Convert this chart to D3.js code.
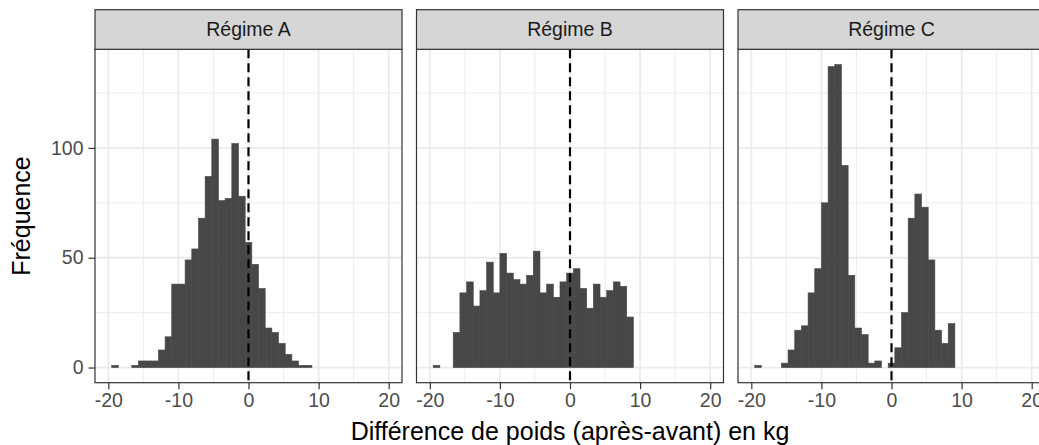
<!DOCTYPE html>
<html>
<head>
<meta charset="utf-8">
<script src="https://cdn.jsdelivr.net/npm/d3@7"></script>
<style>
  body { margin: 0; background: #fff; }
  text { font-family: "Liberation Sans", Arial, sans-serif; }
</style>
</head>
<body>
<div class="chart"></div>
<script>
// facets
var regimes = ["Régime A", "Régime B", "Régime C"];

// histogram bins: index k, bin centred on k * binWidth
var binIndex = d3.range(-20, 10);
var binWidth = 0.952;

// counts per bin (k = -20 .. 9)
var countsA = [1, 0, 0, 1, 3, 3, 3, 8, 14, 38, 38, 49, 54, 68, 87, 104, 76, 77, 102, 78, 57, 47, 36, 18, 16, 11, 6, 3, 1, 1];
var countsB = [1, 0, 0, 16, 34, 39, 28, 35, 48, 34, 52, 43, 40, 38, 42, 53, 34, 38, 32, 39, 43, 45, 36, 27, 38, 32, 35, 39, 37, 23];
var countsC = [1, 0, 0, 0, 2, 8, 17, 19, 34, 45, 75, 137, 138, 92, 42, 18, 15, 2, 3, 0, 2, 9, 25, 68, 79, 73, 49, 17, 11, 20];
var allCounts = [countsA, countsB, countsC];

var xTicks = [-20, -10, 0, 10, 20];
var xMinor = [-15, -5, 5, 15];
var yTicks = [0, 50, 100];
var yMinor = [25, 75, 125];

var W = 1039, H = 445;
var margin = {top: 49.3, left: 95, bottom: 62.3};
var panelW = 307, gap = 14.5, stripH = 39.6;
var panelH = H - margin.top - margin.bottom;
var tickFont = "19.5px", titleFont = "25px";

var svg = d3.select(".chart").append("svg")
    .attr("width", W)
    .attr("height", H);

var xScale = d3.scaleLinear().domain([-21.9, 21.9]).range([0, panelW]);
var maxCount = d3.max(allCounts, c => d3.max(c));
var yScale = d3.scaleLinear()
    .domain([-0.05 * maxCount, 1.05 * maxCount])
    .range([panelH, 0]);

regimes.forEach(function(name, i) {
  var counts = allCounts[i];
  var bins = binIndex.map((k, j) => ({x0: (k - 0.5) * binWidth, x1: (k + 0.5) * binWidth, n: counts[j]}));

  var g = svg.append("g")
      .attr("transform", "translate(" + (margin.left + i * (panelW + gap)) + "," + margin.top + ")");

  // grid
  g.selectAll(".xminor").data(xMinor).enter().append("line")
      .attr("x1", d => xScale(d)).attr("x2", d => xScale(d))
      .attr("y1", 0).attr("y2", panelH)
      .style("stroke", "#ebebeb").style("stroke-width", 0.9);
  g.selectAll(".yminor").data(yMinor).enter().append("line")
      .attr("y1", d => yScale(d)).attr("y2", d => yScale(d))
      .attr("x1", 0).attr("x2", panelW)
      .style("stroke", "#ebebeb").style("stroke-width", 0.9);
  g.selectAll(".xmajor").data(xTicks).enter().append("line")
      .attr("x1", d => xScale(d)).attr("x2", d => xScale(d))
      .attr("y1", 0).attr("y2", panelH)
      .style("stroke", "#ebebeb").style("stroke-width", 1.8);
  g.selectAll(".ymajor").data(yTicks).enter().append("line")
      .attr("y1", d => yScale(d)).attr("y2", d => yScale(d))
      .attr("x1", 0).attr("x2", panelW)
      .style("stroke", "#ebebeb").style("stroke-width", 1.8);

  // bars (thin same-colour stroke hides the seams between neighbours)
  g.selectAll(".bar").data(bins.filter(b => b.n > 0)).enter().append("rect")
      .attr("x", d => xScale(d.x0))
      .attr("width", d => xScale(d.x1) - xScale(d.x0))
      .attr("y", d => yScale(d.n))
      .attr("height", d => yScale(0) - yScale(d.n))
      .style("fill", "#474747")
      .style("stroke", "#474747")
      .style("stroke-width", 0.6);

  // zero line
  g.append("line")
      .attr("x1", xScale(0)).attr("x2", xScale(0))
      .attr("y1", 0).attr("y2", panelH)
      .style("stroke", "#000").style("stroke-width", 2.2)
      .style("stroke-dasharray", "9,5");

  // panel border
  g.append("rect")
      .attr("width", panelW).attr("height", panelH)
      .style("fill", "none").style("stroke", "#333").style("stroke-width", 1.2);

  // strip
  g.append("rect")
      .attr("y", -stripH).attr("width", panelW).attr("height", stripH)
      .style("fill", "#d6d6d6").style("stroke", "#333").style("stroke-width", 1.2);
  g.append("text")
      .attr("x", panelW / 2).attr("y", -stripH / 2)
      .attr("dy", "0.35em")
      .attr("text-anchor", "middle")
      .style("font-size", tickFont).style("fill", "#1a1a1a")
      .text(name);

  // x axis
  var xa = g.append("g")
      .attr("transform", "translate(0," + panelH + ")")
      .call(d3.axisBottom(xScale).tickValues(xTicks).tickSize(6.5).tickPadding(4).tickFormat(d => String(d)));
  xa.select(".domain").remove();
  xa.selectAll("line").style("stroke", "#333").style("stroke-width", 1.2);
  xa.selectAll("text").style("font-size", tickFont).style("fill", "#4d4d4d").style("font-family", "Liberation Sans, Arial, sans-serif");

  if (i === 0) {
    var ya = g.append("g")
        .call(d3.axisLeft(yScale).tickValues(yTicks).tickSize(6.5).tickPadding(5));
    ya.select(".domain").remove();
    ya.selectAll("line").style("stroke", "#333").style("stroke-width", 1.2);
    ya.selectAll("text").style("font-size", tickFont).style("fill", "#4d4d4d").style("font-family", "Liberation Sans, Arial, sans-serif");
  }
});

// axis titles
svg.append("text")
    .attr("x", margin.left + (3 * panelW + 2 * gap) / 2)
    .attr("y", 440)
    .attr("text-anchor", "middle")
    .style("font-size", titleFont)
    .style("fill", "#000")
    .text("Différence de poids (après-avant) en kg");

svg.append("text")
    .attr("transform", "rotate(-90)")
    .attr("x", -(margin.top + panelH / 2))
    .attr("y", 30)
    .attr("text-anchor", "middle")
    .style("font-size", titleFont)
    .style("fill", "#000")
    .text("Fréquence");
</script>
</body>
</html>
